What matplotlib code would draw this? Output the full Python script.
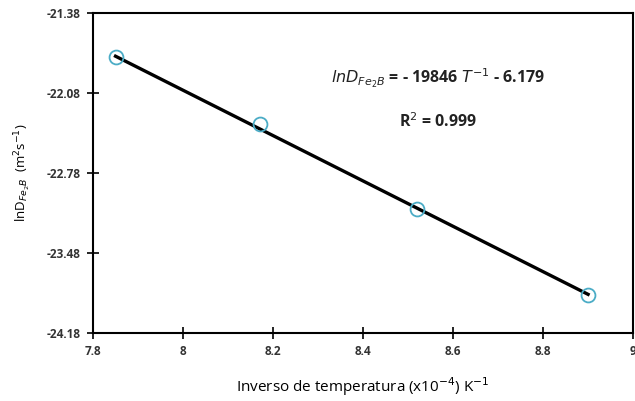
import numpy as np
import matplotlib.pyplot as plt

# inverse temperature (x10^-4 K^-1) and ln D values
inv_temp = [7.85, 8.17, 8.52, 8.90]
ln_d = [-21.765, -22.35, -23.095, -23.85]

# fitted line printed on the chart: lnD = -19846 T^-1 - 6.179
slope = -19846e-4
intercept = -6.179

x_ticks = [7.8, 8.0, 8.2, 8.4, 8.6, 8.8, 9.0]
x_tick_labels = ["7.8", "8", "8.2", "8.4", "8.6", "8.8", "9"]
y_ticks = [-21.38, -22.08, -22.78, -23.48, -24.18]
y_tick_labels = ["-21.38", "-22.08", "-22.78", "-23.48", "-24.18"]

plt.rcParams["font.family"] = ["Open Sans", "DejaVu Sans"]

fig = plt.figure(figsize=(6.35, 4.01), dpi=100)
ax = fig.add_axes([0.1465, 0.1696, 0.8505, 0.798])

fit_x = np.array([inv_temp[0], inv_temp[-1]])
ax.plot(fit_x, slope * fit_x + intercept, color="black", linewidth=2.4, zorder=2)
ax.plot(inv_temp, ln_d, linestyle="none", marker="o", markersize=10,
        markerfacecolor="none", markeredgecolor="#4bacc6", markeredgewidth=1.3,
        zorder=3)

ax.set_xlim(7.8, 9.0)
ax.set_ylim(-24.18, -21.38)
ax.set_xticks(x_ticks)
ax.set_xticklabels(x_tick_labels)
ax.set_yticks(y_ticks)
ax.set_yticklabels(y_tick_labels)
ax.tick_params(direction="inout", length=8, width=1.2, labelsize=8.5, pad=5)
for lbl in ax.get_xticklabels() + ax.get_yticklabels():
    lbl.set_fontweight("bold")
    lbl.set_color("#333333")
for sp in ax.spines.values():
    sp.set_linewidth(1.5)

ax.set_xlabel(r"Inverso de temperatura (x10$^{-4}$) K$^{-1}$",
              fontsize=11, labelpad=12)
ax.set_ylabel(r"lnD$_{Fe_2B}$  (m$^{2}$s$^{-1}$)", fontsize=9.5, labelpad=10)

ax.text(0.44, 0.797, r"$\mathit{lnD_{Fe_2B}}$ = - 19846 $\mathit{T}^{-1}$ - 6.179",
        transform=ax.transAxes, fontsize=11.5, fontweight="bold", color="#222222",
        va="center")
ax.text(0.567, 0.66, r"R$^2$ = 0.999", transform=ax.transAxes,
        fontsize=11.5, fontweight="bold", color="#222222", va="center")

fig.savefig("out.png", dpi=100)
